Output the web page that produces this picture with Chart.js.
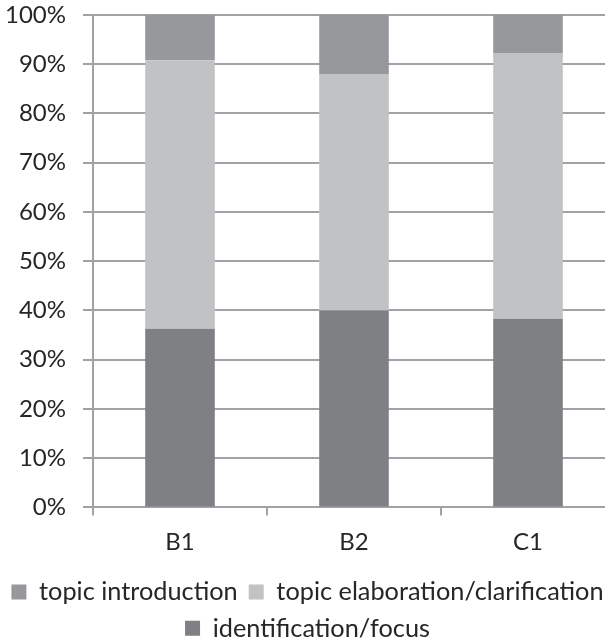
<!DOCTYPE html>
<html>
<head>
<meta charset="utf-8">
<script src="https://cdn.jsdelivr.net/npm/chart.js@4"></script>
<style>
  html, body { margin: 0; padding: 0; background: #fff; overflow: hidden; }
  #wrap { position: relative; width: 615px; height: 651px; }
</style>
</head>
<body>
<div id="wrap"><canvas id="chart"></canvas></div>
<script>
// categories and shares (%) per level
const categories = ["B1", "B2", "C1"];
const identification = [36.3, 40.0, 38.3];
const elaboration = [54.5, 48.0, 54.0];
const introduction = [9.2, 12.0, 7.7];
const yTicks = [0, 10, 20, 30, 40, 50, 60, 70, 80, 90, 100];

const gridGray = "#a2a2a6";
const textColor = "#262626";
const family = "Lato, 'Open Sans', sans-serif";
const tickFont = { family: family, size: 24 };
const legendFont = { family: family, size: 25.3 };

new Chart(document.getElementById("chart"), {
  type: "bar",
  data: {
    labels: categories,
    datasets: [
      { label: "identification/focus", data: identification, backgroundColor: "#7f8084" },
      { label: "topic elaboration/clarification", data: elaboration, backgroundColor: "#c1c2c4" },
      { label: "topic introduction", data: introduction, backgroundColor: "#97989c" }
    ]
  },
  options: {
    responsive: true,
    maintainAspectRatio: false,
    animation: false,
    layout: { padding: 0 },
    datasets: { bar: { barPercentage: 0.4, categoryPercentage: 1 } },
    plugins: {
      tooltip: { enabled: false },
      legend: {
        position: "bottom",
        reverse: true,
        labels: {
          color: textColor,
          font: legendFont,
          boxWidth: 15,
          boxHeight: 15,
          padding: 11
        }
      }
    },
    scales: {
      x: {
        stacked: true,
        afterFit: s => { s.height = 61; },
        grid: { display: true, drawOnChartArea: false, drawTicks: true, tickLength: 8, color: gridGray, lineWidth: 2, offset: true },
        border: { display: true, color: gridGray, width: 2 },
        ticks: { color: textColor, font: tickFont, padding: 12 }
      },
      y: {
        stacked: true,
        min: 0,
        max: 100,
        afterFit: s => { s.width = 93; s.paddingTop = 15; s.paddingBottom = 0; },
        afterBuildTicks: s => { s.ticks = yTicks.map(v => ({ value: v })); },
        grid: { color: gridGray, lineWidth: 2, tickLength: 10 },
        border: { display: true, color: gridGray, width: 2 },
        ticks: { color: textColor, font: tickFont, padding: 17, callback: v => v + "%" }
      }
    }
  }
});
</script>
</body>
</html>
